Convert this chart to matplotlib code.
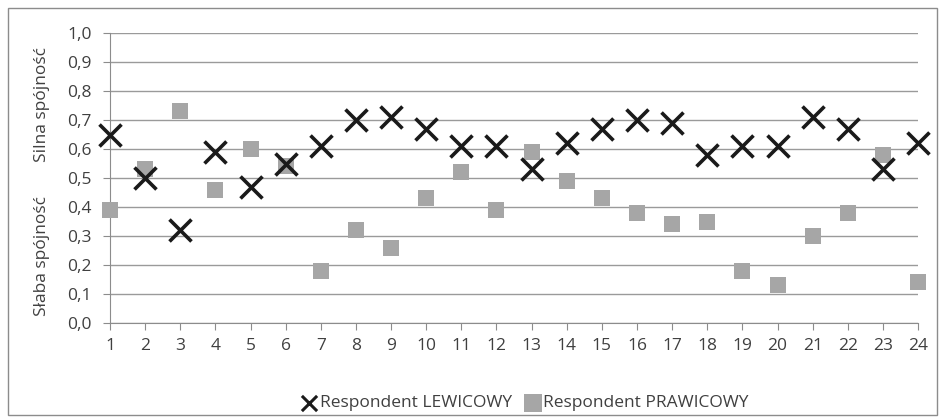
import matplotlib
matplotlib.use('Agg')
import matplotlib.pyplot as plt
from matplotlib.patches import Rectangle

# respondent numbers and coherence scores
respondents = list(range(1, 25))
lewicowy = [0.65, 0.50, 0.32, 0.59, 0.47, 0.55, 0.61, 0.70, 0.71, 0.67, 0.61, 0.61,
            0.53, 0.62, 0.67, 0.70, 0.69, 0.58, 0.61, 0.61, 0.71, 0.67, 0.53, 0.62]
prawicowy = [0.39, 0.53, 0.73, 0.46, 0.60, 0.54, 0.18, 0.32, 0.26, 0.43, 0.52, 0.39,
             0.59, 0.49, 0.43, 0.38, 0.34, 0.35, 0.18, 0.13, 0.30, 0.38, 0.58, 0.14]
y_ticks = [i / 10 for i in range(11)]
y_labels = [f"{v:.1f}".replace('.', ',') for v in y_ticks]

plt.rcParams['font.family'] = ['Open Sans', 'DejaVu Sans']
text_col = '#404040'
fs = 12.5

fig = plt.figure(figsize=(9.44, 4.19), dpi=100)
ax = fig.add_axes([0.1165, 0.229, 0.856, 0.692])

# outer chart frame
fig.patches.append(Rectangle((0.008, 0.01), 0.985, 0.97, transform=fig.transFigure,
                             fill=False, edgecolor='#8c8c8c', linewidth=1))

ax.scatter(respondents, prawicowy, marker='s', s=120, color='#a6a6a6',
           label='Respondent PRAWICOWY', zorder=3, linewidths=0, clip_on=False)
ax.scatter(respondents, lewicowy, marker='x', s=250, color='#1a1a1a',
           linewidths=2.6, label='Respondent LEWICOWY', zorder=4, clip_on=False)

ax.set_xlim(1, 24)
ax.set_ylim(0, 1.0)
ax.set_xticks(respondents)
ax.set_yticks(y_ticks)
ax.set_yticklabels(y_labels)
ax.grid(axis='y', color='#9a9a9a', linewidth=1)
ax.set_axisbelow(True)
for s in ['top', 'right']:
    ax.spines[s].set_visible(False)
for s in ['left', 'bottom']:
    ax.spines[s].set_color('#8c8c8c')
ax.tick_params(axis='both', direction='out', length=5, color='#8c8c8c',
               labelsize=fs, labelcolor=text_col)
ax.tick_params(axis='x', pad=6)
ax.tick_params(axis='y', pad=8)

fig.text(0.045, 0.75, 'Silna spójność', rotation=90, ha='center', va='center',
         fontsize=fs, color=text_col)
fig.text(0.045, 0.39, 'Słaba spójność', rotation=90, ha='center', va='center',
         fontsize=fs, color=text_col)

handles, labels = ax.get_legend_handles_labels()
leg = ax.legend(handles[::-1], labels[::-1], loc='center', bbox_to_anchor=(0.555, 0.038),
                bbox_transform=fig.transFigure, ncol=2, frameon=False, fontsize=fs,
                handletextpad=0.0, columnspacing=0.6, handlelength=1.2,
                labelcolor=text_col)
leg.legend_handles[0].set_sizes([120])
leg.legend_handles[0].set_linewidths([2.2])
leg.legend_handles[1].set_sizes([150])

fig.savefig('out.png', dpi=100)
